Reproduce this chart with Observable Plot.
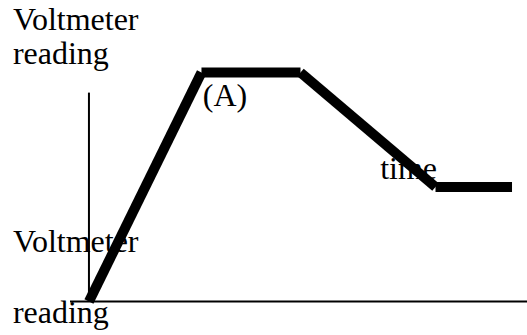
<!DOCTYPE html>
<html>
<head>
<meta charset="utf-8">
<script src="https://cdn.jsdelivr.net/npm/d3@7"></script>
<script src="https://cdn.jsdelivr.net/npm/@observablehq/plot@0.6"></script>
<style>
  html, body { margin: 0; padding: 0; background: #fff; }
</style>
</head>
<body>
<div id="chart"></div>
<script>
// Time points and voltmeter readings of the sketched curve
const times = [0, 2.5, 4.7, 7.7, 9.4];
const readings = [0, 10, 10, 5, 5];

// Annotation texts and where they sit (in time / reading units)
const labelTexts = ["Voltmeter", "reading", "(A)", "time", "Voltmeter", "reading"];
const labelTimes = [-1.69, -1.69, 2.53, 6.47, -1.69, -1.69];
const labelReadings = [11.86, 10.35, 8.53, 5.33, 2.14, -0.96];

const pts = times.map((t, i) => ({t, v: readings[i]}));
const segs = pts.slice(1).map((p, i) => ({t1: pts[i].t, v1: pts[i].v, t2: p.t, v2: p.v}));
const labels = labelTexts.map((text, i) => ({text, t: labelTimes[i], v: labelReadings[i]}));

const chart = Plot.plot({
  width: 527,
  height: 335,
  marginLeft: 70,
  marginRight: 0,
  marginTop: 72,
  marginBottom: 34,
  x: {domain: [-0.41, 9.744], axis: null},
  y: {domain: [0, 10], axis: null},
  style: {fontFamily: "'Liberation Serif', 'Times New Roman', serif", background: "#fff"},
  marks: [
    Plot.text(labels, {x: "t", y: "v", text: "text", textAnchor: "start", lineAnchor: "bottom",
      fontSize: 32, fill: "#000", clip: false}),
    Plot.ruleY([0], {stroke: "#000", strokeWidth: 2}),
    Plot.ruleX([0], {y1: 0, y2: 9.1, stroke: "#000", strokeWidth: 2}),
    Plot.link(segs, {x1: "t1", y1: "v1", x2: "t2", y2: "v2", stroke: "#000",
      strokeWidth: 10, strokeLinecap: "butt"})
  ]
});
document.getElementById("chart").append(chart);
</script>
</body>
</html>
